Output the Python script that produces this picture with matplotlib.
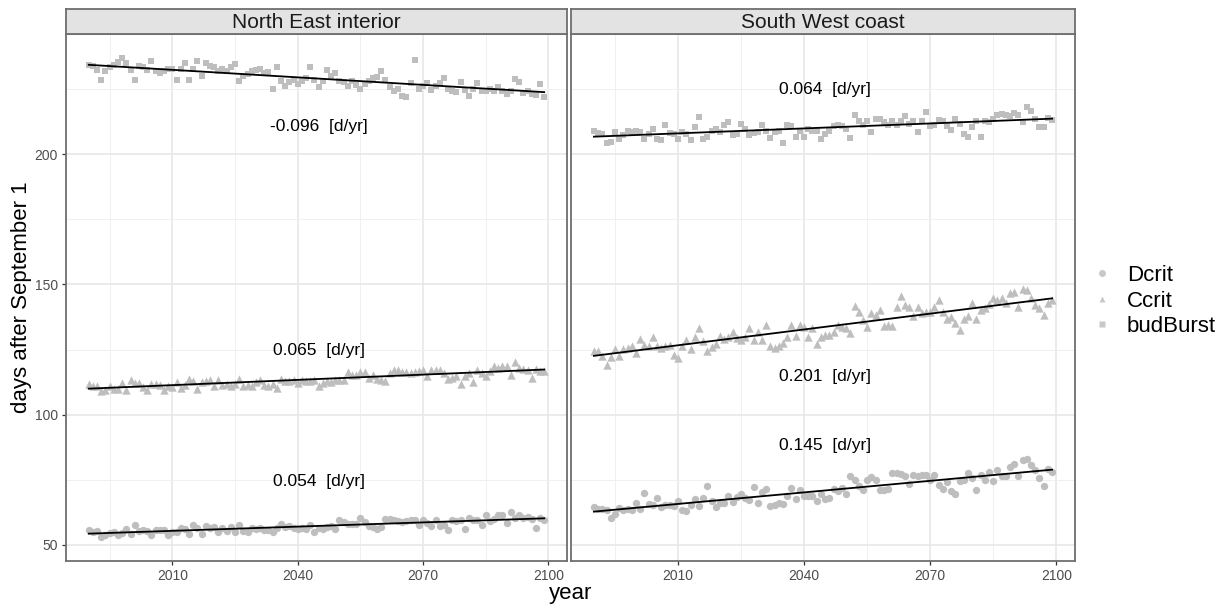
import numpy as np
import matplotlib
matplotlib.use('Agg')
import matplotlib.pyplot as plt
from matplotlib.lines import Line2D

plt.rcParams['font.family'] = ['Liberation Sans', 'DejaVu Sans']

# years of the simulation
years = np.arange(1990, 2100)

panels = ['North East interior', 'South West coast']
series = ['Dcrit', 'Ccrit', 'budBurst']

# North East interior
ne_budburst = [
    234.4, 233.9, 232.6, 228.8, 232.2, 233.5, 234.4, 235.7, 237.1, 235.0,
    232.5, 228.8, 234.1, 233.7, 232.5, 236.1, 232.2, 231.2, 232.0, 232.9,
    232.9, 228.8, 232.9, 235.2, 228.8, 232.9, 236.1, 230.0, 235.2, 233.9,
    233.5, 232.2, 232.9, 232.0, 233.7, 234.8, 228.4, 230.3, 230.9, 232.0,
    232.5, 232.9, 231.2, 231.8, 225.2, 233.5, 228.4, 226.5, 227.7, 228.6,
    227.1, 228.4, 229.4, 233.5, 228.6, 226.1, 228.4, 232.5, 230.3, 231.2,
    228.4, 227.7, 226.5, 228.4, 226.8, 225.2, 227.1, 228.4, 229.4, 229.9,
    232.2, 228.6, 225.8, 224.5, 225.2, 222.6, 222.2, 227.4, 236.3, 225.2,
    226.5, 227.4, 224.8, 226.5, 227.4, 229.4, 225.2, 224.5, 223.9, 228.0,
    224.8, 222.6, 225.2, 227.4, 224.5, 224.5, 225.2, 224.3, 225.8, 224.5,
    223.3, 224.5, 229.0, 227.7, 223.5, 224.5, 223.3, 223.0, 227.1, 222.0]
ne_ccrit = [
    111.8, 111.1, 110.9, 108.9, 109.6, 111.1, 109.8, 109.8, 112.1, 109.6,
    113.4, 112.1, 112.1, 110.6, 109.3, 111.8, 111.9, 111.5, 109.6, 111.1,
    110.5, 112.4, 110.2, 111.5, 113.7, 112.8, 109.8, 112.5, 112.8, 113.2,
    110.9, 113.2, 111.5, 111.9, 110.9, 111.9, 113.7, 110.9, 111.5, 110.9,
    112.5, 113.2, 111.5, 110.9, 111.9, 110.2, 113.7, 112.8, 112.8, 113.2,
    112.1, 113.2, 112.8, 113.0, 113.4, 111.1, 112.1, 112.8, 112.4, 113.4,
    113.2, 113.2, 116.2, 115.3, 115.3, 116.2, 116.2, 114.1, 115.3, 113.7,
    113.4, 112.8, 115.8, 117.3, 117.0, 116.2, 116.2, 116.0, 116.2, 116.6,
    117.0, 114.7, 117.3, 117.0, 117.3, 116.0, 113.7, 114.1, 114.7, 111.9,
    115.0, 116.0, 112.4, 117.3, 116.0, 115.0, 116.6, 118.8, 117.9, 118.5,
    118.8, 115.3, 120.2, 117.9, 117.5, 117.3, 114.1, 117.5, 116.9, 116.6]
ne_dcrit = [
    55.5, 54.7, 55.1, 52.9, 53.8, 54.5, 54.7, 53.8, 54.5, 56.0,
    54.2, 57.4, 55.1, 55.5, 55.1, 53.5, 55.8, 55.5, 55.8, 53.8, 55.0,
    54.7, 56.4, 56.0, 54.2, 57.7, 56.4, 54.2, 57.0, 56.4, 56.8,
    54.7, 56.4, 55.1, 56.8, 54.7, 57.4, 55.1, 54.7, 56.4, 56.0, 56.2,
    55.5, 55.8, 54.7, 56.4, 58.1, 56.8, 57.3, 56.4, 56.0, 56.4,
    56.0, 57.4, 54.7, 56.4, 56.0, 56.8, 57.3, 56.0, 59.3, 58.6, 58.0,
    58.1, 58.1, 60.2, 58.6, 57.3, 56.8, 56.0, 56.8, 59.8, 60.0,
    59.3, 59.0, 58.6, 59.0, 59.3, 59.3, 57.7, 59.3, 58.3, 57.3, 59.5,
    57.3, 57.7, 55.5, 59.3, 59.0, 59.3, 56.1, 60.2, 59.3, 59.6,
    57.4, 61.5, 59.0, 59.8, 61.3, 61.3, 58.3, 62.5, 60.2, 61.5, 60.4,
    60.6, 59.8, 56.4, 60.2, 59.6]

# South West coast
sw_budburst = [
    209.2, 208.2, 207.7, 204.4, 204.7, 208.6, 206.0, 207.3, 208.9, 208.6,
    208.9, 208.6, 206.0, 207.9, 209.8, 206.0, 205.4, 211.5, 208.2, 207.7,
    206.0, 208.8, 207.9, 205.4, 210.7, 214.3, 206.0, 206.9, 209.2,
    209.8, 208.6, 211.5, 212.4, 207.3, 207.7, 211.8, 209.8, 207.3, 208.2,
    208.6, 211.5, 208.9, 206.4, 208.6, 209.2, 204.4, 211.5, 211.1, 206.7,
    209.2, 206.7, 209.8, 209.2, 209.2, 206.0, 207.9, 209.2, 211.1,
    211.5, 211.1, 209.8, 206.4, 215.3, 212.8, 211.5, 212.8, 208.6, 213.7,
    213.7, 212.4, 211.5, 213.0, 211.5, 212.8, 214.6, 211.8, 212.8, 208.6,
    213.0, 216.2, 211.1, 211.5, 213.3, 212.8, 211.1, 209.5, 213.7, 211.8,
    207.7, 206.7, 210.5, 212.8, 206.7, 213.0, 212.4, 213.7, 215.0,
    215.6, 215.0, 214.6, 215.9, 215.0, 212.4, 218.4, 216.6, 213.7, 210.7,
    210.5, 214.1, 213.3]
sw_ccrit = [
    124.3, 124.5, 122.6, 119.1, 122.3, 125.2, 122.6, 125.2, 125.5, 126.4,
    123.6, 129.1, 126.8, 126.4, 130.0, 126.2, 125.5, 126.4, 126.8, 123.0,
    121.7, 126.4, 128.7, 125.2, 130.0, 133.2, 128.1, 124.5, 125.9, 127.2,
    130.3, 129.0, 129.8, 131.9, 129.4, 128.7, 130.0, 133.2, 128.7, 131.9,
    128.7, 134.5, 126.4, 125.5, 126.2, 127.5, 130.0, 134.5, 130.3, 134.5,
    133.6, 130.0, 133.2, 127.2, 130.0, 130.7, 130.7, 131.9, 134.5, 133.6,
    133.2, 131.3, 141.8, 139.6, 136.4, 133.6, 139.0, 138.3, 140.2, 134.1,
    134.5, 134.1, 141.5, 145.6, 142.2, 141.3, 137.7, 141.5, 139.0, 139.6,
    139.6, 141.5, 144.1, 139.6, 136.7, 137.4, 135.1, 132.6, 136.7, 137.7,
    142.8, 136.7, 140.2, 140.9, 142.5, 144.7, 144.1, 144.7, 142.8, 146.9,
    147.3, 141.5, 148.2, 147.9, 144.7, 142.2, 140.9, 138.3, 142.8, 144.1]
sw_dcrit = [
    64.4, 63.7, 63.7, 63.2, 60.2, 61.9, 64.1, 63.2, 63.7, 63.4,
    66.0, 63.7, 69.8, 65.7, 65.3, 67.9, 64.4, 65.3, 65.3, 65.0,
    66.6, 63.4, 62.8, 65.3, 67.5, 65.0, 67.9, 72.4, 66.6, 64.4,
    66.0, 66.0, 68.5, 66.2, 68.3, 69.6, 67.9, 67.3, 72.1, 66.0,
    70.1, 71.3, 65.0, 65.3, 66.0, 65.7, 68.5, 71.7, 67.5, 71.1,
    68.8, 68.5, 68.8, 66.6, 69.6, 67.5, 67.9, 71.3, 70.5, 71.7,
    69.6, 76.2, 74.9, 72.6, 70.8, 74.9, 76.0, 74.9, 71.1, 71.1,
    71.3, 77.5, 77.5, 77.2, 76.2, 73.4, 76.8, 76.2, 76.8, 76.8,
    74.9, 76.8, 73.0, 71.3, 73.9, 70.5, 69.6, 74.3, 74.7, 77.7, 75.5,
    71.1, 76.8, 74.9, 78.1, 74.3, 78.5, 76.5, 76.5, 80.0, 80.9,
    76.5, 82.6, 82.9, 80.7, 78.5, 75.6, 72.6, 79.0, 78.1]

# trend labels (slope of the linear fit) and where they sit
ne_labels = ['0.054  [d/yr]', '0.065  [d/yr]', '-0.096  [d/yr]']
sw_labels = ['0.145  [d/yr]', '0.201  [d/yr]', '0.064  [d/yr]']
ne_label_y = [74.2, 124.5, 210.7]
sw_label_y = [88.0, 114.6, 225.0]
label_year = 2045

data = {
    'North East interior': [ne_dcrit, ne_ccrit, ne_budburst],
    'South West coast': [sw_dcrit, sw_ccrit, sw_budburst],
}
labels = {'North East interior': (ne_labels, ne_label_y),
          'South West coast': (sw_labels, sw_label_y)}

markers = {'Dcrit': ('o', 28), 'Ccrit': ('^', 36), 'budBurst': ('s', 24)}
pt_col = '#BEBEBE'
frame_col = '#6E6E6E'

# shared y range with ggplot style 5% expansion
all_vals = np.concatenate([np.array(v) for p in panels for v in data[p]])
yr = all_vals.max() - all_vals.min()
ylim = (all_vals.min() - 0.05 * yr, all_vals.max() + 0.05 * yr)
xr = years.max() - years.min()
xlim = (years.min() - 0.05 * xr, years.max() + 0.05 * xr)

W, H = 1221, 608
fig = plt.figure(figsize=(W / 100, H / 100), dpi=100)

panel_x = [(66, 567), (571, 1075)]
top, bottom, strip_top = 34, 561, 9

for i, panel in enumerate(panels):
    x0, x1 = panel_x[i]
    ax = fig.add_axes([x0 / W, 1 - bottom / H, (x1 - x0) / W, (bottom - top) / H])
    ax.set_xlim(xlim)
    ax.set_ylim(ylim)

    # grid like theme_bw
    ax.set_xticks([2010, 2040, 2070, 2100])
    ax.set_xticks([1995, 2025, 2055, 2085], minor=True)
    ax.set_yticks([50, 100, 150, 200])
    ax.set_yticks([75, 125, 175, 225], minor=True)
    ax.grid(which='major', color='#E6E6E6', lw=1.1)
    ax.grid(which='minor', color='#F0F0F0', lw=0.7)
    ax.set_axisbelow(True)
    for sp in ax.spines.values():
        sp.set_color(frame_col)
        sp.set_linewidth(1.3)
    ax.tick_params(which='major', direction='out', length=3, width=0.9,
                   color='#333333', labelcolor='#4D4D4D', labelsize=10, pad=3)
    ax.tick_params(which='minor', length=0)
    if i > 0:
        ax.tick_params(axis='y', which='both', left=False, labelleft=False)

    for name, vals in zip(series, data[panel]):
        vals = np.array(vals)
        m, s = markers[name]
        ax.scatter(years, vals, marker=m, s=s, color=pt_col, linewidths=0, zorder=2)
        slope, icpt = np.polyfit(years, vals, 1)
        ax.plot([years.min(), years.max()],
                [icpt + slope * years.min(), icpt + slope * years.max()],
                color='black', lw=1.3, zorder=3)

    txts, tys = labels[panel]
    for t, ty in zip(txts, tys):
        ax.text(label_year, ty, t, ha='center', va='center', fontsize=12.5, color='black')

    # facet strip
    sax = fig.add_axes([x0 / W, 1 - top / H, (x1 - x0) / W, (top - strip_top) / H])
    sax.set_facecolor('#E3E3E3')
    sax.set_xticks([])
    sax.set_yticks([])
    for sp in sax.spines.values():
        sp.set_color(frame_col)
        sp.set_linewidth(1.3)
    sax.text(0.5, 0.45, panel, ha='center', va='center', fontsize=15,
             color='#1A1A1A', transform=sax.transAxes)

fig.text(570.5 / W, 1 - 594 / H, 'year', ha='center', va='center', fontsize=16)
fig.text(22 / W, 1 - 297.5 / H, 'days after September 1', ha='center', va='center',
         rotation=90, fontsize=16)

handles = [Line2D([], [], ls='none', marker=markers[n][0], markersize=5,
                  color='#C8C8C8', mec='none') for n in series]
fig.legend(handles, series, loc='center left', bbox_to_anchor=(1080 / W, 1 - 301 / H),
           frameon=False, fontsize=16, handletextpad=0.5, labelspacing=0.2,
           handlelength=1.2, borderaxespad=0)

plt.savefig('out.png', dpi=100)
